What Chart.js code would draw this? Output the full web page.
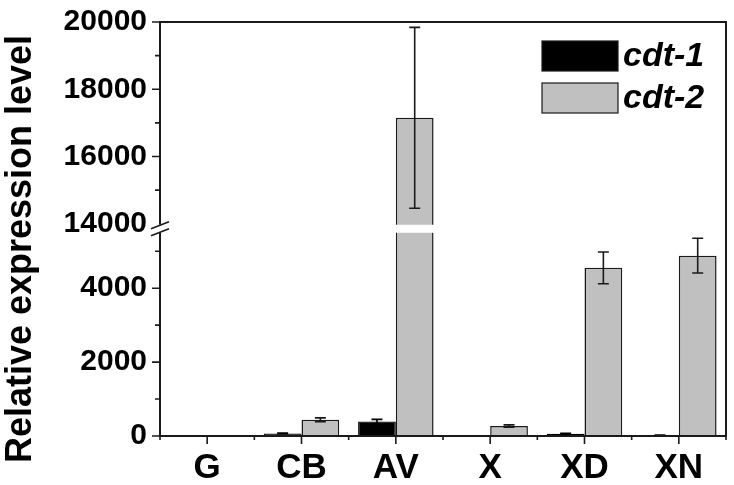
<!DOCTYPE html>
<html>
<head>
<meta charset="utf-8">
<script src="https://cdn.jsdelivr.net/npm/chart.js@4.4.1/dist/chart.umd.min.js"></script>
<style>
  html, body { margin: 0; padding: 0; background: #fff; }
  #wrap { width: 734px; height: 485px; }
</style>
</head>
<body>
<div id="wrap"><canvas id="chart" width="734" height="485"></canvas></div>
<script>
// data
const categories = ["G", "CB", "AV", "X", "XD", "XN"];
const cdt1Values = [0, 70, 390, 0, 60, 20];
const cdt1Errors = [0, 10, 60, 0, 10, 5];
const cdt2Values = [0, 440, 17150, 270, 4550, 4880];
const cdt2Errors = [0, 50, 2690, 30, 430, 470];
const yTickValues = [0, 2000, 4000, 14000, 16000, 18000, 20000];
const yMinorTickValues = [1000, 3000, 5000, 15000, 17000, 19000];
const seriesNames = ["cdt-1", "cdt-2"];

// broken axis: 0..5500 kept, 14000..20000 squeezed above a small gap
const LOW_MAX = 5500;
const HIGH_MIN = 14000;
const GAP = 244;
const HIGH_SCALE = 0.91;

function toAxis(v) {
  if (v <= LOW_MAX) return v;
  if (v < HIGH_MIN) return LOW_MAX;
  return LOW_MAX + GAP + (v - HIGH_MIN) * HIGH_SCALE;
}

const colors = ["#000000", "#c0c0c0"];
const lineColor = "#1a1a1a";
const fontFamily = "'Liberation Sans', Arial, sans-serif";

const brokenAxisPlugin = {
  id: "brokenAxis",
  afterDatasetsDraw(chart) {
    const ctx = chart.ctx;
    const area = chart.chartArea;
    const x = chart.scales.x;
    const y = chart.scales.y;

    ctx.save();
    ctx.strokeStyle = lineColor;
    ctx.lineWidth = 1.6;

    // error bars
    const errs = [cdt1Errors, cdt2Errors];
    const vals = [cdt1Values, cdt2Values];
    chart.data.datasets.forEach((ds, di) => {
      const meta = chart.getDatasetMeta(di);
      meta.data.forEach((bar, i) => {
        const e = errs[di][i];
        if (!e) return;
        const top = y.getPixelForValue(toAxis(vals[di][i] + e));
        const bot = y.getPixelForValue(toAxis(Math.max(0, vals[di][i] - e)));
        ctx.strokeStyle = di === 0 ? "#000" : lineColor;
        ctx.beginPath();
        ctx.moveTo(bar.x, top);
        ctx.lineTo(bar.x, bot);
        ctx.moveTo(bar.x - 5.5, top);
        ctx.lineTo(bar.x + 5.5, top);
        ctx.moveTo(bar.x - 5.5, bot);
        ctx.lineTo(bar.x + 5.5, bot);
        ctx.stroke();
      });
    });

    // white gap across the plot
    const gapTop = y.getPixelForValue(toAxis(HIGH_MIN)) + 1;
    const gapBot = y.getPixelForValue(toAxis(LOW_MAX));
    ctx.fillStyle = "#fff";
    ctx.fillRect(area.left - 2, gapTop, area.right - area.left, gapBot - gapTop);

    // frame
    ctx.strokeStyle = lineColor;
    ctx.lineWidth = 2;
    ctx.beginPath();
    ctx.moveTo(area.left, gapTop);
    ctx.lineTo(area.left, area.top);
    ctx.lineTo(area.right, area.top);
    ctx.lineTo(area.right, area.bottom);
    ctx.lineTo(area.left, area.bottom);
    ctx.lineTo(area.left, gapBot);
    ctx.stroke();

    // y ticks
    ctx.lineWidth = 1.6;
    ctx.beginPath();
    yTickValues.forEach(v => {
      if (v === HIGH_MIN) return;
      const py = y.getPixelForValue(toAxis(v));
      ctx.moveTo(area.left - 8, py);
      ctx.lineTo(area.left, py);
    });
    yMinorTickValues.forEach(v => {
      const py = y.getPixelForValue(toAxis(v));
      ctx.moveTo(area.left - 5, py);
      ctx.lineTo(area.left, py);
    });

    // x ticks: major at centres, minor at boundaries
    categories.forEach((c, i) => {
      const px = x.getPixelForValue(i);
      ctx.moveTo(px, area.bottom);
      ctx.lineTo(px, area.bottom + 8);
    });
    for (let i = 0; i <= categories.length; i++) {
      const px = x.getPixelForValue(i - 0.5);
      ctx.moveTo(px, area.bottom);
      ctx.lineTo(px, area.bottom + 4);
    }
    ctx.stroke();

    // break marks on the left axis
    ctx.beginPath();
    ctx.moveTo(area.left - 9, gapTop + 4);
    ctx.lineTo(area.left + 9, gapTop - 3);
    ctx.moveTo(area.left - 9, gapBot + 3);
    ctx.lineTo(area.left + 9, gapBot - 4);
    ctx.stroke();

    // legend
    ctx.font = "italic bold 34px " + fontFamily;
    ctx.textBaseline = "middle";
    ctx.textAlign = "left";
    seriesNames.forEach((name, i) => {
      const by = 41 + i * 42;
      ctx.fillStyle = colors[i];
      ctx.fillRect(542, by, 76, 30);
      ctx.strokeStyle = lineColor;
      ctx.lineWidth = 1.2;
      ctx.strokeRect(542, by, 76, 30);
      ctx.fillStyle = "#000";
      ctx.fillText(name, 623, by + 16);
    });

    // y axis title
    ctx.translate(21, 249);
    ctx.rotate(-Math.PI / 2);
    ctx.textAlign = "center";
    ctx.font = "bold 36px " + fontFamily;
    ctx.fillText("Relative expression level", 0, 0);
    ctx.restore();
  }
};

new Chart(document.getElementById("chart"), {
  type: "bar",
  data: {
    labels: categories,
    datasets: [
      {
        label: seriesNames[0],
        data: cdt1Values.map(toAxis),
        backgroundColor: colors[0],
        borderColor: "#000",
        borderWidth: 1.2,
        categoryPercentage: 0.8,
        barPercentage: 1.0
      },
      {
        label: seriesNames[1],
        data: cdt2Values.map(toAxis),
        backgroundColor: colors[1],
        borderColor: lineColor,
        borderWidth: 1.5,
        categoryPercentage: 0.8,
        barPercentage: 1.0
      }
    ]
  },
  options: {
    responsive: false,
    animation: false,
    layout: { padding: { top: 22, right: 8, left: 0, bottom: 0 } },
    plugins: {
      legend: { display: false },
      tooltip: { enabled: false }
    },
    scales: {
      x: {
        grid: { display: false, drawTicks: false },
        border: { display: false },
        ticks: {
          color: "#000",
          padding: 11,
          font: { family: fontFamily, size: 35, weight: "bold" }
        },
        afterFit(scale) {
          scale.height = 49;
          scale.paddingLeft = 0;
          scale.paddingRight = 0;
        }
      },
      y: {
        min: 0,
        max: toAxis(20000),
        grid: { display: false, drawTicks: false },
        border: { display: false },
        afterBuildTicks(scale) {
          scale.ticks = yTickValues.map(v => ({ value: toAxis(v) }));
        },
        ticks: {
          color: "#000",
          padding: 13,
          font: { family: fontFamily, size: 30, weight: "bold" },
          callback: (value, index) => String(yTickValues[index])
        },
        afterFit(scale) {
          scale.width = 160;
          scale.paddingTop = 0;
          scale.paddingBottom = 0;
        }
      }
    }
  },
  plugins: [brokenAxisPlugin]
});
</script>
</body>
</html>
